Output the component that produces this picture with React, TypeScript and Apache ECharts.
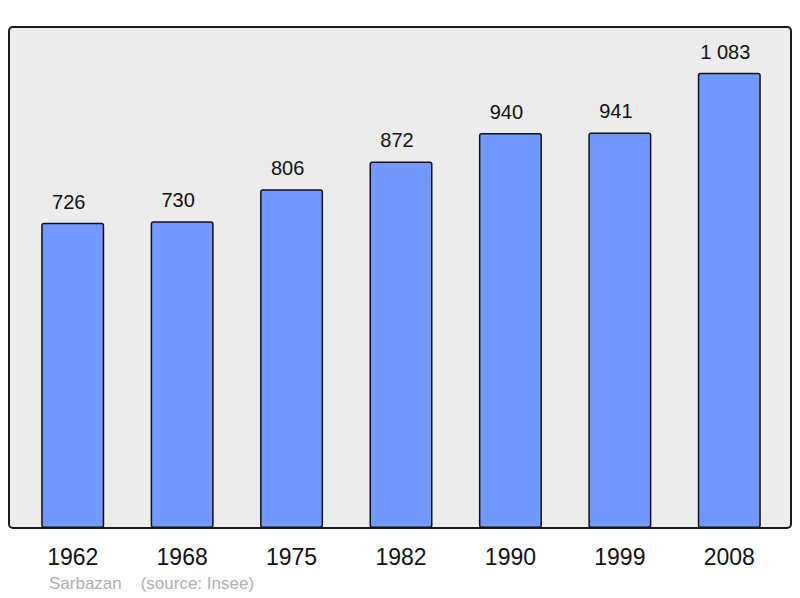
import React, { useEffect, useRef } from "react";
import * as echarts from "echarts";

const years = ["1962", "1968", "1975", "1982", "1990", "1999", "2008"];
const population = [726, 730, 806, 872, 940, 941, 1083];
const townName = "Sarbazan";
const sourceText = "(source: Insee)";

const fmt = (v: number) => {
  const s = String(v);
  return s.replace(/\B(?=(\d{3})+(?!\d))/g, " ");
};

export default function App() {
  const ref = useRef<HTMLDivElement>(null);
  useEffect(() => {
    if (!ref.current) return;
    const chart = echarts.init(ref.current, undefined, { renderer: "svg" });
    chart.setOption({
      animation: false,
      textStyle: { fontFamily: "Liberation Sans, Arial, sans-serif" },
      grid: { left: 18, right: 16, top: 27, bottom: 70 },
      graphic: [
        {
          type: "rect",
          z: -10,
          shape: { x: 9, y: 27, width: 782, height: 501, r: 4 },
          style: { fill: "#ececec", stroke: "#1a1a1a", lineWidth: 2 },
        },
        {
          type: "text",
          x: 49,
          y: 583,
          style: {
            text: townName + "    " + sourceText,
            fill: "#b0b0b0",
            font: "17px Liberation Sans, Arial, sans-serif",
            verticalAlign: "middle",
          },
        },
      ],
      xAxis: {
        type: "category",
        data: years,
        axisLine: { show: false },
        axisTick: { show: false },
        axisLabel: {
          color: "#111",
          fontSize: 23,
          margin: 17,
        },
      },
      yAxis: {
        type: "value",
        min: 0,
        max: 1192,
        show: false,
        splitLine: { show: false },
      },
      series: [
        {
          type: "bar",
          data: population,
          barWidth: 63,
          itemStyle: {
            color: "#7399ff",
            borderColor: "#111",
            borderWidth: 1.5,
            borderRadius: 2,
          },
          label: {
            show: true,
            position: "top",
            distance: 11,
            offset: [-4, 0],
            color: "#111",
            fontSize: 20,
            formatter: (p: any) => fmt(p.value),
          },
        },
      ],
    });
    return () => chart.dispose();
  }, []);
  return <div ref={ref} style={{ width: 800, height: 598, position: "absolute", left: 0, top: 0 }} />;
}
